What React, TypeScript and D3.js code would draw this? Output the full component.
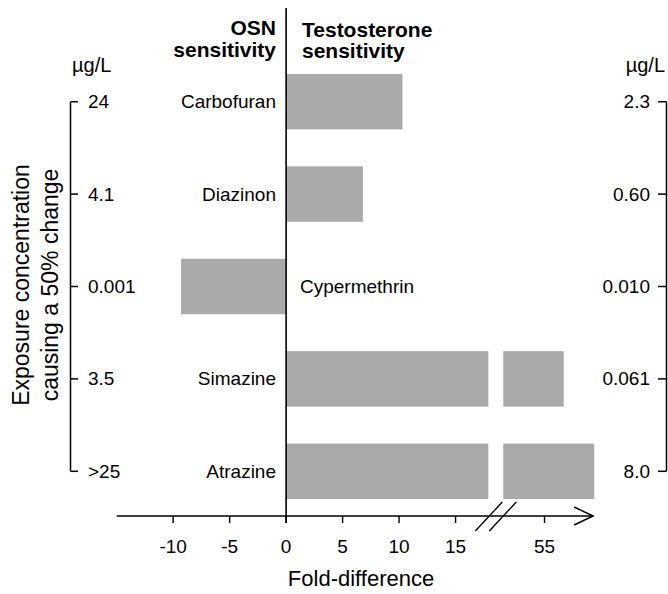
import React, { useEffect, useRef } from 'react';
import * as d3 from 'd3';

// chemicals, top to bottom
const categories = ['Carbofuran', 'Diazinon', 'Cypermethrin', 'Simazine', 'Atrazine'];
// fold-difference (negative = OSN more sensitive)
const foldDiff = [10.3, 6.8, -9.3, 56.7, 59.4];
// exposure concentration causing a 50% change (µg/L)
const osnConc = ['24', '4.1', '0.001', '3.5', '>25'];
const testoConc = ['2.3', '0.60', '0.010', '0.061', '8.0'];
// x axis ticks, either side of the break
const ticksLow = [-10, -5, 0, 5, 10, 15];
const ticksHigh = [55];

const W = 668;
const H = 594;

const App = () => {
  const ref = useRef<SVGSVGElement>(null);

  useEffect(() => {
    document.body.style.margin = '0';
    const svg = d3.select(ref.current);
    svg.selectAll('*').remove();

    const font = 'Liberation Sans, Arial, Helvetica, sans-serif';
    const barFill = '#aaaaaa';

    // broken x axis: two linear pieces at the same px/unit
    const breakLo = 17.9;
    const breakHi = 51.35;
    const x1 = d3.scaleLinear().domain([-15, breakLo]).range([116.7, 488.3]);
    const x2 = d3.scaleLinear().domain([breakHi, 59.3]).range([503.3, 593.1]);

    const y = d3.scaleBand()
      .domain(categories)
      .range([55.5, 517.5])
      .paddingInner(0.4)
      .paddingOuter(0.2);

    const axisY = 516;
    const x0 = x1(0);

    // bars
    const g = svg.append('g');
    categories.forEach((c, i) => {
      const v = foldDiff[i];
      const top = y(c)!;
      const bh = y.bandwidth();
      if (v < 0) {
        g.append('rect').attr('x', x1(v)).attr('y', top)
          .attr('width', x0 - x1(v)).attr('height', bh).attr('fill', barFill);
      } else if (v <= breakLo) {
        g.append('rect').attr('x', x0).attr('y', top)
          .attr('width', x1(v) - x0).attr('height', bh).attr('fill', barFill);
      } else {
        g.append('rect').attr('x', x0).attr('y', top)
          .attr('width', x1(breakLo) - x0).attr('height', bh).attr('fill', barFill);
        g.append('rect').attr('x', x2(breakHi)).attr('y', top)
          .attr('width', x2(v) - x2(breakHi)).attr('height', bh).attr('fill', barFill);
      }
    });

    // zero line
    svg.append('line')
      .attr('x1', x0).attr('x2', x0)
      .attr('y1', 8).attr('y2', axisY + 7)
      .attr('stroke', '#000').attr('stroke-width', 1.6);

    // x axis line + arrow
    const xEnd = x2.range()[1];
    svg.append('line')
      .attr('x1', x1.range()[0]).attr('x2', xEnd)
      .attr('y1', axisY).attr('y2', axisY)
      .attr('stroke', '#000').attr('stroke-width', 1.5);
    svg.append('path')
      .attr('d', `M${xEnd - 19},${axisY - 9} L${xEnd},${axisY} L${xEnd - 19},${axisY + 9}`)
      .attr('fill', 'none').attr('stroke', '#000').attr('stroke-width', 1.5);

    // break marks
    const bx = (x1(breakLo) + x2(breakHi)) / 2;
    [-7, 7].forEach(off => {
      svg.append('line')
        .attr('x1', bx + off - 13.5).attr('y1', axisY + 15)
        .attr('x2', bx + off + 13.5).attr('y2', axisY - 14)
        .attr('stroke', '#000').attr('stroke-width', 1.4);
    });

    // ticks
    const tickData = [
      ...ticksLow.map(t => ({ t, x: x1(t) })),
      ...ticksHigh.map(t => ({ t, x: x2(t) })),
    ];
    tickData.forEach(d => {
      svg.append('line')
        .attr('x1', d.x).attr('x2', d.x)
        .attr('y1', axisY).attr('y2', axisY + 7)
        .attr('stroke', '#000').attr('stroke-width', 1.4);
      svg.append('text')
        .attr('x', d.x).attr('y', 553)
        .attr('text-anchor', 'middle')
        .attr('font-family', font).attr('font-size', 19)
        .text(String(d.t));
    });

    svg.append('text')
      .attr('x', 361).attr('y', 586)
      .attr('text-anchor', 'middle')
      .attr('font-family', font).attr('font-size', 22)
      .text('Fold-difference');

    // headers
    const head = (txt: string, x: number, yy: number, anchor: string) =>
      svg.append('text').attr('x', x).attr('y', yy)
        .attr('text-anchor', anchor)
        .attr('font-family', font).attr('font-size', 21).attr('font-weight', 'bold')
        .text(txt);
    head('OSN', 276, 35, 'end');
    head('sensitivity', 276, 57, 'end');
    head('Testosterone', 302, 37, 'start');
    head('sensitivity', 302, 58, 'start');

    // category labels
    categories.forEach((c, i) => {
      const cy = y(c)! + y.bandwidth() / 2;
      const neg = foldDiff[i] < 0;
      svg.append('text')
        .attr('x', neg ? 300 : 276).attr('y', cy + 6.5)
        .attr('text-anchor', neg ? 'start' : 'end')
        .attr('font-family', font).attr('font-size', 19)
        .text(c);
    });

    // unit labels
    svg.append('text').attr('x', 72).attr('y', 72)
      .attr('font-family', font).attr('font-size', 20).text('µg/L');
    svg.append('text').attr('x', 665).attr('y', 72).attr('text-anchor', 'end')
      .attr('font-family', font).attr('font-size', 20).text('µg/L');

    // brackets with concentration labels
    const cys = categories.map(c => y(c)! + y.bandwidth() / 2);
    const first = cys[0];
    const last = cys[cys.length - 1];
    const lx = 70.5;
    const rx = 666.5;
    svg.append('line').attr('x1', lx).attr('x2', lx).attr('y1', first).attr('y2', last)
      .attr('stroke', '#000').attr('stroke-width', 1.5);
    svg.append('line').attr('x1', rx).attr('x2', rx).attr('y1', first).attr('y2', last)
      .attr('stroke', '#000').attr('stroke-width', 1.5);
    cys.forEach((cy, i) => {
      svg.append('line').attr('x1', lx).attr('x2', lx + 7.5).attr('y1', cy).attr('y2', cy)
        .attr('stroke', '#000').attr('stroke-width', 1.5);
      svg.append('line').attr('x1', rx - 8.5).attr('x2', rx).attr('y1', cy).attr('y2', cy)
        .attr('stroke', '#000').attr('stroke-width', 1.5);
      svg.append('text').attr('x', 88).attr('y', cy + 6.5)
        .attr('font-family', font).attr('font-size', 19).text(osnConc[i]);
      svg.append('text').attr('x', 650).attr('y', cy + 6.5).attr('text-anchor', 'end')
        .attr('font-family', font).attr('font-size', 19).text(testoConc[i]);
    });

    // y title (two lines, rotated)
    const yt = svg.append('text')
      .attr('transform', 'translate(0,285) rotate(-90)')
      .attr('text-anchor', 'middle')
      .attr('font-family', font).attr('font-size', 23);
    yt.append('tspan').attr('x', 0).attr('y', 29).text('Exposure concentration');
    yt.append('tspan').attr('x', 0).attr('y', 58).text('causing a 50% change');
  }, []);

  return <svg ref={ref} width={W} height={H} style={{ display: 'block', background: '#fff' }}></svg>;
};

export default App;
